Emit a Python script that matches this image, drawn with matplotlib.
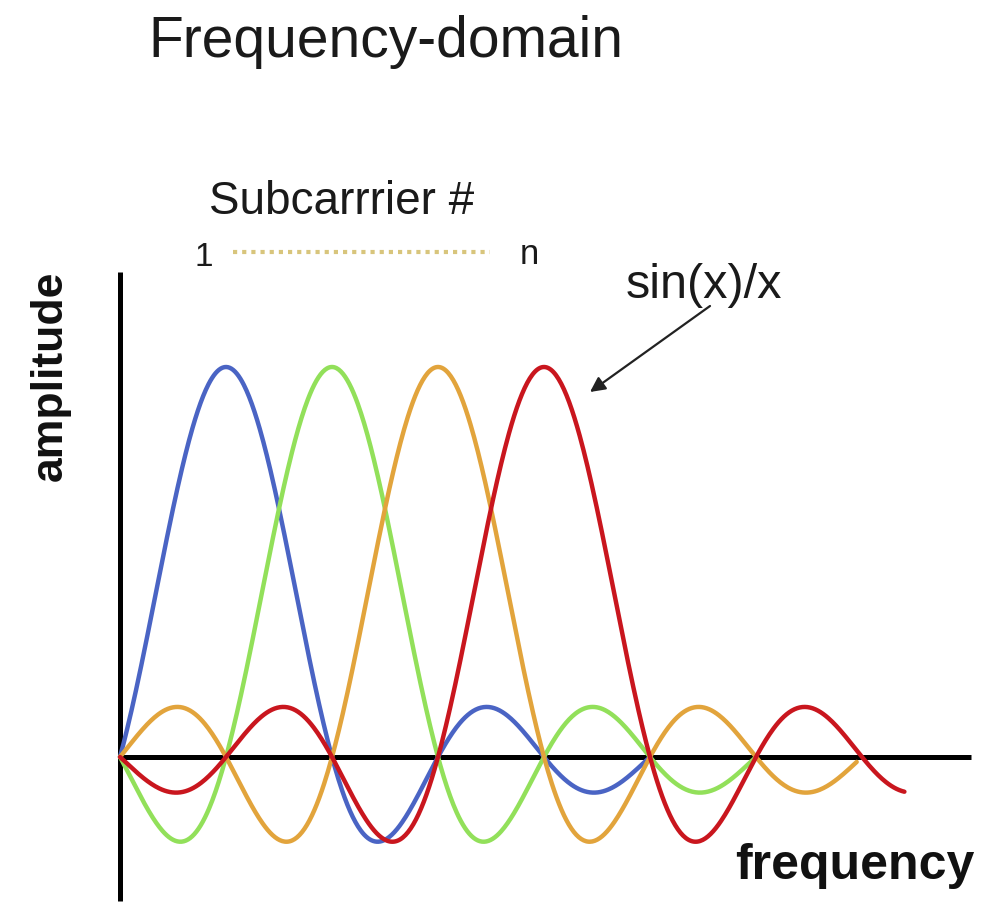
import numpy as np
import matplotlib
matplotlib.use("Agg")
import matplotlib.pyplot as plt

# ---- data ----
subcarriers = ["1", "2", "3", "n"]
centers = [1.0, 2.0, 3.0, 4.0]          # peak positions (subcarrier spacing units)
starts = [0.0, 0.0, 0.0, 0.0]
ends = [5.0, 6.0, 6.95, 7.4]
peak_amplitudes = [1.0, 1.0, 1.0, 1.0]
colors = ["#4a64c4", "#92e05a", "#e2a43c", "#c9161e"]

title_text = "Frequency-domain"
legend_title = "Subcarrrier #"
curve_label = "sin(x)/x"
x_label = "frequency"
y_label = "amplitude"

W, H = 987, 907
fig = plt.figure(figsize=(W / 100, H / 100), dpi=100)
plt.rcParams['font.family'] = ['Liberation Sans', 'DejaVu Sans']

# pixel layout mapping
X0, DX = 120.0, 106.0
Y0, DY = 757.0, 390.0
ax = fig.add_axes([0, 0, 1, 1])
ax.set_xlim(-X0 / DX, (W - X0) / DX)
ax.set_ylim((Y0 - H) / DY, Y0 / DY)
ax.axis("off")

def px_x(p):
    return (p - X0) / DX

def px_y(p):
    return (Y0 - p) / DY

# axes lines
ax.plot([0, 0], [px_y(272), px_y(901)], color="black", lw=3.6, solid_capstyle="butt", zorder=2)
ax.plot([0, px_x(971)], [0, 0], color="black", lw=3.6, solid_capstyle="butt", zorder=2)

# sinc curves
for c, s, e, a, col in zip(centers, starts, ends, peak_amplitudes, colors):
    xs = np.linspace(s, e, 600)
    ax.plot(xs, a * np.sinc(xs - c), color=col, lw=3.2, zorder=3,
            solid_capstyle="round")

# texts (figure pixel coords -> fraction)
def ft(x, y, s, **kw):
    fig.text(x / W, 1 - y / H, s, **kw)

ft(148, 42, title_text, fontsize=41, ha="left", va="center", color="#1a1a1a")
ft(209, 202, legend_title, fontsize=33, ha="left", va="center", color="#1a1a1a")
ft(195, 258, subcarriers[0], fontsize=24, ha="left", va="center", color="#1a1a1a")
ft(520, 254, subcarriers[-1], fontsize=25, ha="left", va="center", color="#1a1a1a")
ax.plot([px_x(233), px_x(490)], [px_y(252), px_y(252)], color="#d8c57c",
        lw=3, linestyle=(0, (1.0, 1.2)), zorder=2)
ft(626, 286, curve_label, fontsize=35, ha="left", va="center", color="#1a1a1a")
ft(50, 376, y_label, fontsize=32, fontweight="bold", rotation=90,
   ha="center", va="center", color="#111111")
ft(735, 866, x_label, fontsize=36, fontweight="bold", ha="left", va="center",
   color="#111111")

ax.annotate("", xy=(px_x(590), px_y(392)), xytext=(px_x(710), px_y(306)),
            arrowprops=dict(arrowstyle="-|>,head_length=0.9,head_width=0.45",
                            color="#222222", lw=1.6, shrinkA=0, shrinkB=0),
            zorder=4)

fig.savefig("out.png", dpi=100, facecolor="white")
